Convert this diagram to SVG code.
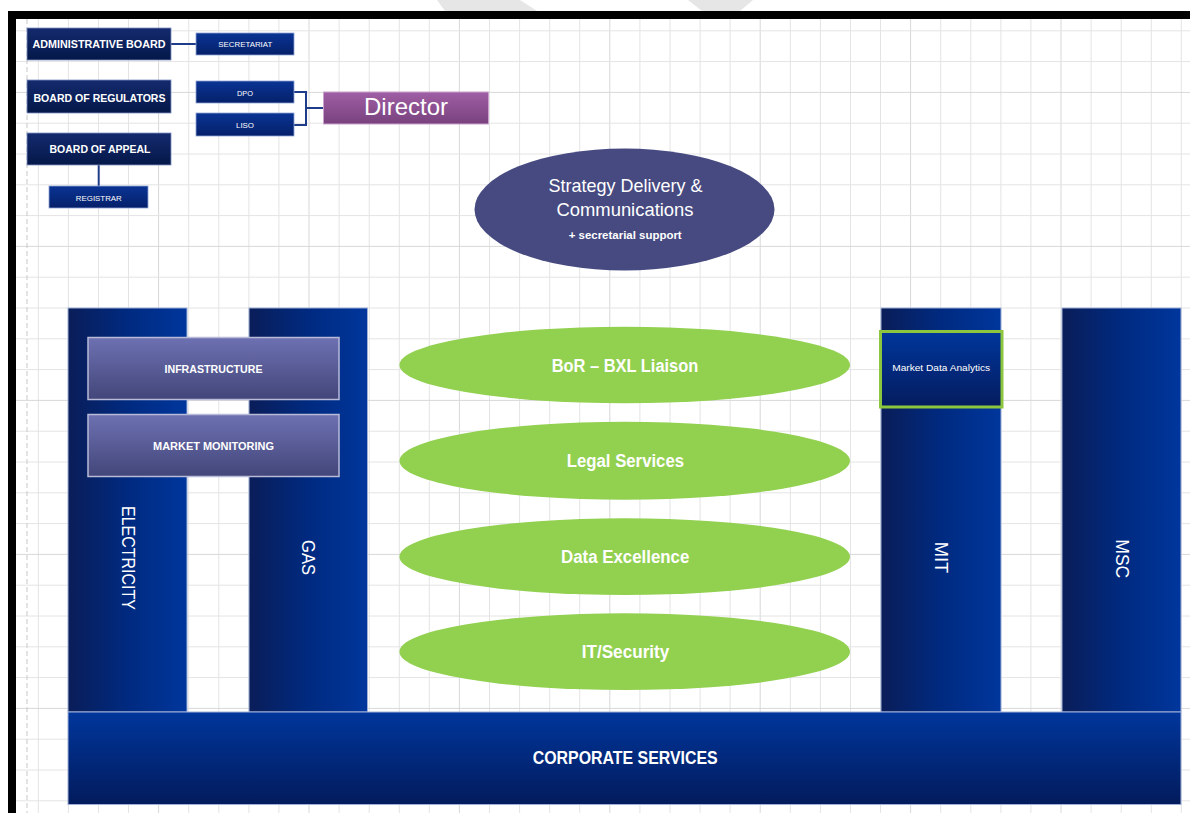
<svg xmlns="http://www.w3.org/2000/svg" width="1190" height="813" viewBox="0 0 1190 813">
<style>
.t{font-family:"Liberation Sans",Arial,sans-serif;fill:#ffffff;text-anchor:middle}
.b{font-weight:bold}
.minor{stroke:#e4e4e4;stroke-width:1;fill:none}
.major{stroke:#d8d8d8;stroke-width:1;fill:none}
.conn{stroke:#1f3c88;stroke-width:2;fill:none}
.board{fill:url(#gBoard);stroke:#7f91c4;stroke-width:0.8}
.small{fill:url(#gSmall);stroke:#8fa3d6;stroke-width:0.8}
.col{fill:url(#gCol);stroke:#9fb0d8;stroke-width:1}
.sub{fill:url(#gSub);stroke:#b8bad8;stroke-width:1.5}
.green{fill:#92d050}
</style>
<defs>
<linearGradient id="gBoard" x1="0" y1="0" x2="0" y2="1"><stop offset="0" stop-color="#142a6e"/><stop offset="1" stop-color="#041849"/></linearGradient>
<linearGradient id="gSmall" x1="0" y1="0" x2="0" y2="1"><stop offset="0" stop-color="#0a3494"/><stop offset="1" stop-color="#05206a"/></linearGradient>
<linearGradient id="gCol" x1="0" y1="0" x2="1" y2="0"><stop offset="0" stop-color="#0a1d58"/><stop offset="0.5" stop-color="#002a80"/><stop offset="1" stop-color="#00369c"/></linearGradient>
<linearGradient id="gCorp" x1="0" y1="0" x2="0" y2="1"><stop offset="0" stop-color="#00369c"/><stop offset="1" stop-color="#031b5c"/></linearGradient>
<linearGradient id="gSub" x1="0" y1="0" x2="0" y2="1"><stop offset="0" stop-color="#6d71b2"/><stop offset="1" stop-color="#434679"/></linearGradient>
<linearGradient id="gMda" x1="0" y1="0" x2="0" y2="1"><stop offset="0" stop-color="#00369c"/><stop offset="1" stop-color="#051c5e"/></linearGradient>
<linearGradient id="gDir" x1="0" y1="0" x2="0" y2="1"><stop offset="0" stop-color="#a05ea4"/><stop offset="1" stop-color="#78427e"/></linearGradient>
</defs>
<rect width="1190" height="813" fill="#ffffff"/>
<polygon points="437,0 520,0 537,11 445,11" fill="#e6e6e6"/>
<polygon points="688,0 753,0 740,11 702,11" fill="#e6e6e6"/>
<g id="grid">
<path class="minor" d="M38.3,19V813M68.4,19V813M98.5,19V813M128.5,19V813M188.7,19V813M218.8,19V813M248.9,19V813M278.9,19V813M339.1,19V813M369.2,19V813M399.3,19V813M429.3,19V813M489.5,19V813M519.6,19V813M549.7,19V813M579.7,19V813M639.9,19V813M670,19V813M700.1,19V813M730.1,19V813M790.3,19V813M820.4,19V813M850.5,19V813M880.5,19V813M940.7,19V813M970.8,19V813M1000.9,19V813M1030.9,19V813M1091.1,19V813M1121.2,19V813M1151.3,19V813M1181.3,19V813"/>
<path class="major" d="M158.6,19V813M309,19V813M459.4,19V813M609.8,19V813M760.2,19V813M910.6,19V813M1061,19V813"/>
<path class="minor" d="M16,30.8H1190M16,61.6H1190M16,123.2H1190M16,154H1190M16,184.8H1190M16,215.6H1190M16,277.2H1190M16,308H1190M16,338.8H1190M16,369.6H1190M16,431.2H1190M16,462H1190M16,492.8H1190M16,523.6H1190M16,585.2H1190M16,616H1190M16,646.8H1190M16,677.6H1190M16,739.2H1190M16,770H1190M16,800.8H1190"/>
<path class="major" d="M16,92.4H1190M16,246.4H1190M16,400.4H1190M16,554.4H1190M16,708.4H1190"/>
<path d="M27,19V813" stroke="#c8c8c8" stroke-width="1" stroke-dasharray="5,3" fill="none"/>
</g>
<rect x="8" y="11" width="1182" height="8" fill="#000000"/>
<rect x="8" y="11" width="8" height="802" fill="#000000"/>

<g id="connectors">
<path class="conn" d="M171,44H196"/>
<path class="conn" d="M294,92H306V125H294M306,108H323"/>
<path class="conn" d="M98.7,165V186"/>
</g>

<g id="admin-board"><rect class="board" x="27" y="28" width="144" height="32"/><text class="t b" x="99" y="48.3" font-size="11.5" textLength="133" lengthAdjust="spacingAndGlyphs">ADMINISTRATIVE BOARD</text></g>
<g id="secretariat"><rect class="small" x="196" y="33" width="98" height="22"/><text class="t" x="245.3" y="46.5" font-size="7" textLength="54" lengthAdjust="spacingAndGlyphs">SECRETARIAT</text></g>
<g id="board-of-regulators"><rect class="board" x="27" y="80" width="144" height="33"/><text class="t b" x="99.5" y="101.7" font-size="11.5" textLength="132" lengthAdjust="spacingAndGlyphs">BOARD OF REGULATORS</text></g>
<g id="board-of-appeal"><rect class="board" x="27" y="133" width="144" height="32"/><text class="t b" x="100" y="153.3" font-size="11.5" textLength="101" lengthAdjust="spacingAndGlyphs">BOARD OF APPEAL</text></g>
<g id="registrar"><rect class="small" x="49" y="186" width="99" height="22"/><text class="t" x="98.8" y="200.5" font-size="7" textLength="46" lengthAdjust="spacingAndGlyphs">REGISTRAR</text></g>
<g id="dpo"><rect class="small" x="196" y="81" width="98" height="22"/><text class="t" x="245" y="95.5" font-size="7" textLength="16" lengthAdjust="spacingAndGlyphs">DPO</text></g>
<g id="liso"><rect class="small" x="196" y="113" width="98" height="23"/><text class="t" x="245" y="127.5" font-size="7" textLength="18" lengthAdjust="spacingAndGlyphs">LISO</text></g>
<g id="director"><rect x="323.5" y="92" width="165" height="32" fill="url(#gDir)" stroke="#caa3cd" stroke-width="1"/><text class="t" x="406" y="115" font-size="24.5" textLength="84" lengthAdjust="spacingAndGlyphs">Director</text></g>

<g id="strategy"><ellipse cx="624.5" cy="209.5" rx="150" ry="61" fill="#464a80"/>
<text class="t" x="625.5" y="191.7" font-size="18.5" textLength="154" lengthAdjust="spacingAndGlyphs">Strategy Delivery &amp;</text>
<text class="t" x="625" y="216" font-size="18.5" textLength="137" lengthAdjust="spacingAndGlyphs">Communications</text>
<text class="t b" x="625.2" y="239" font-size="10.5" textLength="113" lengthAdjust="spacingAndGlyphs">+ secretarial support</text></g>

<g id="electricity"><rect class="col" x="68" y="308" width="119" height="404"/><text class="t" transform="translate(128.3,558) rotate(90)" x="0" y="6.5" font-size="18" textLength="104" lengthAdjust="spacingAndGlyphs">ELECTRICITY</text></g>
<g id="gas"><rect class="col" x="249" y="308" width="118.5" height="404"/><text class="t" transform="translate(308.3,557.5) rotate(90)" x="0" y="6.5" font-size="18" textLength="35" lengthAdjust="spacingAndGlyphs">GAS</text></g>
<g id="mit"><rect class="col" x="881" y="308" width="120" height="404"/><text class="t" transform="translate(941.7,557.5) rotate(90)" x="0" y="6.5" font-size="18" textLength="31.6" lengthAdjust="spacingAndGlyphs">MIT</text></g>
<g id="msc"><rect class="col" x="1062" y="308" width="119" height="404"/><text class="t" transform="translate(1122.3,558.8) rotate(90)" x="0" y="6.5" font-size="18" textLength="39" lengthAdjust="spacingAndGlyphs">MSC</text></g>

<g id="infrastructure"><rect class="sub" x="88" y="337.5" width="251" height="62"/><text class="t b" x="213.5" y="373" font-size="10.5" textLength="98" lengthAdjust="spacingAndGlyphs">INFRASTRUCTURE</text></g>
<g id="market-monitoring"><rect class="sub" x="88" y="414.5" width="251" height="62"/><text class="t b" x="213.5" y="450" font-size="10.5" textLength="121" lengthAdjust="spacingAndGlyphs">MARKET MONITORING</text></g>
<g id="market-data-analytics"><rect x="880.5" y="331.5" width="121.5" height="75.5" fill="url(#gMda)" stroke="#8cc63f" stroke-width="3"/><text class="t" x="941.2" y="371.3" font-size="9" textLength="98" lengthAdjust="spacingAndGlyphs">Market Data Analytics</text></g>

<g id="bor-bxl-liaison"><ellipse class="green" cx="624.7" cy="365" rx="225.3" ry="38.3"/><text class="t b" x="625" y="371.7" font-size="17.5" textLength="146.7" lengthAdjust="spacingAndGlyphs">BoR – BXL Liaison</text></g>
<g id="legal-services"><ellipse class="green" cx="624.7" cy="460.8" rx="225.3" ry="39"/><text class="t b" x="625.4" y="466.7" font-size="17.5" textLength="117.3" lengthAdjust="spacingAndGlyphs">Legal Services</text></g>
<g id="data-excellence"><ellipse class="green" cx="624.7" cy="556.7" rx="225.3" ry="38.4"/><text class="t b" x="625.2" y="562.7" font-size="17.5" textLength="128.3" lengthAdjust="spacingAndGlyphs">Data Excellence</text></g>
<g id="it-security"><ellipse class="green" cx="624.7" cy="651.7" rx="225.3" ry="38.4"/><text class="t b" x="625.5" y="658.3" font-size="17.5" textLength="87.7" lengthAdjust="spacingAndGlyphs">IT/Security</text></g>

<g id="corporate-services"><rect x="68" y="712" width="1113" height="92.5" fill="url(#gCorp)" stroke="#9fb0d8" stroke-width="1"/><text class="t b" x="625.2" y="764" font-size="18" textLength="185" lengthAdjust="spacingAndGlyphs">CORPORATE SERVICES</text></g>
</svg>
